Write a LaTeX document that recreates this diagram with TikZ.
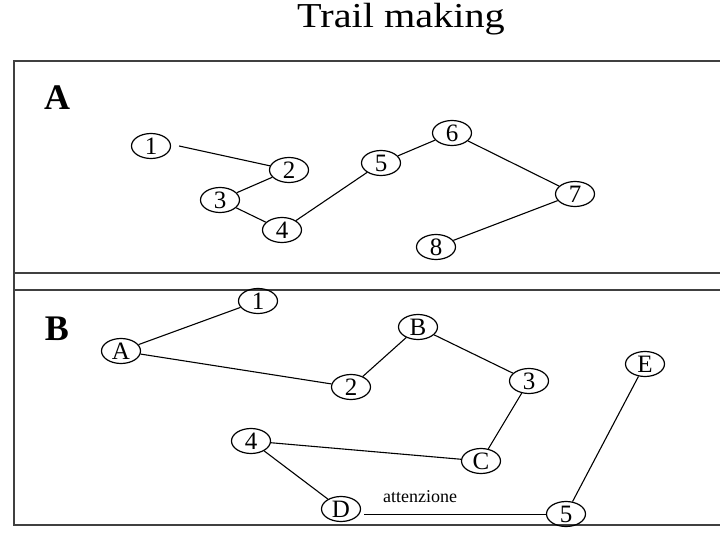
\documentclass[tikz,border=0pt]{standalone}
\usepackage{fontspec}
\setmainfont{Liberation Serif}
\usetikzlibrary{shapes.geometric}
\begin{document}
\begin{tikzpicture}[x=1pt,y=-1pt,
  nd/.style={ellipse,draw,line width=1.2pt,minimum width=39pt,minimum height=25pt,inner sep=0pt,font=\fontsize{25}{25}\selectfont},
  ln/.style={line width=1.1pt},
  frame/.style={line width=1.3pt,draw=black!75}]
\useasboundingbox (0,0) rectangle (720,540);
\node[anchor=base,inner sep=0pt] (title) at (401,28) {\scalebox{1.15}[1]{\fontsize{35}{35}\selectfont Trail making}};
% frame
\draw[frame] (722,61) -- (14,61) -- (14,525) -- (722,525);
\draw[frame] (14,273) -- (722,273);
\draw[frame] (14,290) -- (722,290);
\node (la) at (57,98) {\fontsize{36}{36}\selectfont\bfseries A};
\node (lb) at (57,329) {\fontsize{36}{36}\selectfont\bfseries B};
% panel A
\node[nd] (a1) at (151,146) {1};
\node[nd] (a2) at (289,170) {2};
\node[nd] (a3) at (220,200) {3};
\node[nd] (a4) at (282,230) {4};
\node[nd] (a5) at (381,163) {5};
\node[nd] (a6) at (452,133) {6};
\node[nd] (a7) at (575,194) {7};
\node[nd] (a8) at (436,247) {8};
\draw[ln] ([xshift=8pt]a1.east) -- (a2);
\draw[ln] (a2) -- (a3);
\draw[ln] (a3) -- (a4);
\draw[ln] (a4) -- (a5);
\draw[ln] (a5) -- (a6);
\draw[ln] (a6) -- (a7);
\draw[ln] (a7) -- (a8);
% panel B
\node[nd] (b1) at (258,301) {1};
\node[nd] (bA) at (121,351) {A};
\node[nd] (b2) at (351,387) {2};
\node[nd] (bB) at (418,327) {B};
\node[nd] (b3) at (529,381) {3};
\node[nd] (bC) at (481,461) {C};
\node[nd] (b4) at (251,441) {4};
\node[nd] (bD) at (341,509) {D};
\node[nd] (b5) at (566,514) {5};
\node[nd] (bE) at (645,364) {E};
\node[anchor=west,inner sep=0pt,font=\fontsize{18}{18}\selectfont] (att) at (383,497) {attenzione};
\draw[ln] (bA) -- (b1);
\draw[ln] (bA) -- (b2);
\draw[ln] (b2) -- (bB);
\draw[ln] (bB) -- (b3);
\draw[ln] (b3) -- (bC);
\draw[ln] (bC) -- (b4);
\draw[ln] (b4) -- (bD);
\draw[ln] ([shift={(3pt,-5.5pt)}]bD.east) -- ([yshift=-0.5pt]b5.west);
\draw[ln] (b5) -- (bE);
\end{tikzpicture}
\end{document}
